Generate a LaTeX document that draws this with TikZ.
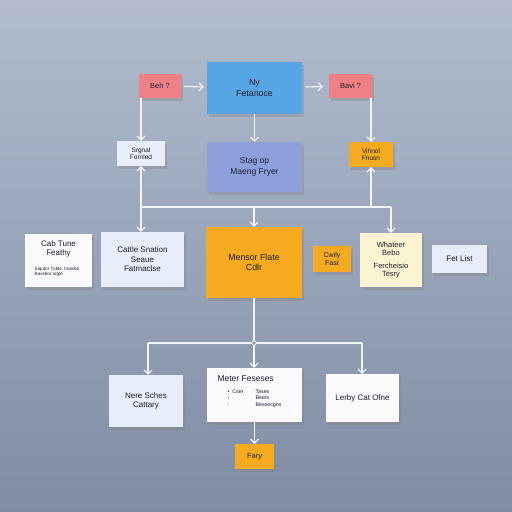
\documentclass[tikz,border=0pt]{standalone}
\usepackage{fontspec}
\setmainfont{Liberation Sans}
\usetikzlibrary{arrows.meta,shadows}
\definecolor{bgtop}{RGB}{178,188,206}
\definecolor{bgbot}{RGB}{128,140,164}
\definecolor{redbox}{RGB}{240,128,132}
\definecolor{bluebox}{RGB}{88,165,230}
\definecolor{purplebox}{RGB}{142,160,220}
\definecolor{orangebox}{RGB}{246,170,32}
\definecolor{creambox}{RGB}{251,244,210}
\definecolor{lightbox}{RGB}{232,238,249}
\definecolor{whitebox}{RGB}{250,250,252}
\definecolor{linecol}{RGB}{242,245,250}
\definecolor{textcol}{RGB}{28,32,45}
\tikzset{
  box/.style={draw=none, inner sep=2pt, align=center, text=textcol,
    font=\fontsize{7.5}{9}\selectfont,
    drop shadow={opacity=0.35, shadow xshift=2pt, shadow yshift=-2.5pt}},
  conn/.style={draw=linecol, line width=1.1pt, -{Straight Barb[length=4pt,width=8pt]}},
  plain/.style={draw=linecol, line width=1.1pt},
}
\begin{document}
\begin{tikzpicture}[x=1pt,y=-1pt]
\shade[top color=bgtop, bottom color=bgbot] (0,0) rectangle (512,512);
\useasboundingbox (0,0) rectangle (512,512);

% top row
\node[box, fill=redbox, minimum width=42pt, minimum height=24pt] (redL) at (160,86) {Beh ?};
\node[box, fill=bluebox, minimum width=95pt, minimum height=52pt, font=\fontsize{8.8}{11}\selectfont] (blue) at (254.5,88) {Ny\\Fetanoce};
\node[box, fill=redbox, minimum width=43pt, minimum height=24pt] (redR) at (350.5,86) {Bavi ?};

% second row
\node[box, fill=lightbox, minimum width=48pt, minimum height=25pt, font=\fontsize{6.5}{7.5}\selectfont] (sig) at (141,153.5) {Srgnal\\Fornled};
\node[box, fill=purplebox, minimum width=95pt, minimum height=50pt, font=\fontsize{8.5}{11}\selectfont] (purple) at (254.5,167) {Stag op\\Maeng Fryer};
\node[box, fill=orangebox, minimum width=44pt, minimum height=25pt, font=\fontsize{6.5}{7.5}\selectfont] (orS) at (371,154.5) {Vihnol\\Fnusn};

% middle row
\node[box, fill=whitebox, minimum width=67pt, minimum height=53pt] (white) at (58.5,260.5) {};
\node[text=textcol, align=center, font=\fontsize{8}{9}\selectfont] (whiteT) at (58.5,249) {Cab Tune\\Feathy};
\node[text=textcol, align=left, font=\fontsize{4.6}{5.5}\selectfont] (whiteS) at (57,272) {Siqutor Tuble, hsavbe\\Bavsbor srgle};
\node[box, fill=lightbox, minimum width=83pt, minimum height=55pt, font=\fontsize{8}{9.5}\selectfont] (lblue) at (142.5,259.5) {Cattle Snation\\Seaue\\Fatmaclse};
\node[box, fill=orangebox, minimum width=96pt, minimum height=71pt, font=\fontsize{8.8}{10.5}\selectfont] (bigO) at (254,262.5) {Mensor Flate\\Cdlr};
\node[box, fill=orangebox, minimum width=38pt, minimum height=26pt, font=\fontsize{7}{8}\selectfont] (smO) at (332,259) {Cwily\\Fast};
\node[box, fill=creambox, minimum width=62pt, minimum height=54pt, font=\fontsize{7.5}{8.5}\selectfont] (cream) at (391,260) {Whateer\\Bebo\\[4pt]Fercheisio\\Tesry};
\node[box, fill=lightbox, minimum width=55pt, minimum height=28pt, font=\fontsize{8}{9}\selectfont] (fet) at (459.5,259) {Fet List};

% bottom row
\node[box, fill=lightbox, minimum width=74pt, minimum height=52pt, font=\fontsize{8}{9.5}\selectfont] (b1) at (146,401) {Nere Sches\\Cattary};
\node[box, fill=whitebox, minimum width=95pt, minimum height=54pt] (b2) at (254.5,395) {};
\node[text=textcol, anchor=west, font=\fontsize{8.5}{10}\selectfont] (b2t) at (214,379) {Meter Feseses};
\node[text=textcol, anchor=north west, align=left, font=\fontsize{5.3}{6.5}\selectfont] (b2l) at (224,386) {•\ \ Cser\\ ›\\ :};
\node[text=textcol, anchor=north west, align=left, font=\fontsize{5.3}{6.5}\selectfont] (b2r) at (252,386) {Tases\\Beers\\Bessecgns};
\node[box, fill=whitebox, minimum width=73pt, minimum height=48pt, font=\fontsize{8}{9}\selectfont] (b3) at (362.5,398) {Lerby Cat Ofne};
\node[box, fill=orangebox, minimum width=39pt, minimum height=25pt] (fary) at (254.5,456.5) {Fary};

% connectors top
\draw[conn, shorten <=3pt, shorten >=3pt] (redL) -- (blue);
\draw[conn, shorten <=3pt, shorten >=6pt] (blue) -- (redR);
\draw[conn] (redL.south -| sig.north) -- (sig.north);
\draw[conn] (blue.south) -- (purple.north);
\draw[conn] (redR.south -| orS.north) -- (orS.north);

% bus
\coordinate (busL) at (141,207);
\coordinate (busR) at (391,207);
\draw[plain] (busL) -- (busR);
\draw[conn] (busL) -- (sig.south);
\draw[conn] (busL) -- (lblue.north -| busL);
\draw[conn] (busL -| bigO.north) -- (bigO.north);
\draw[conn] (busL -| orS.south) -- (orS.south);
\draw[conn] (busR) -- (cream.north);

% lower bus
\coordinate (jn) at (254,343);
\coordinate (lbL) at (148,343);
\coordinate (lbR) at (362,343);
\draw[plain] (bigO.south) -- (jn);
\draw[plain] (lbL) -- (lbR);
\draw[conn] (lbL) -- (lbL |- b1.north);
\draw[conn] (jn) -- (jn |- b2.north);
\draw[conn] (lbR) -- (lbR |- b3.north);
\draw[draw=linecol, line width=0.8pt, fill=bgbot!70!bgtop] (jn) circle (2.2pt);
\draw[conn] (b2.south -| fary.north) -- (fary.north);
\end{tikzpicture}
\end{document}
